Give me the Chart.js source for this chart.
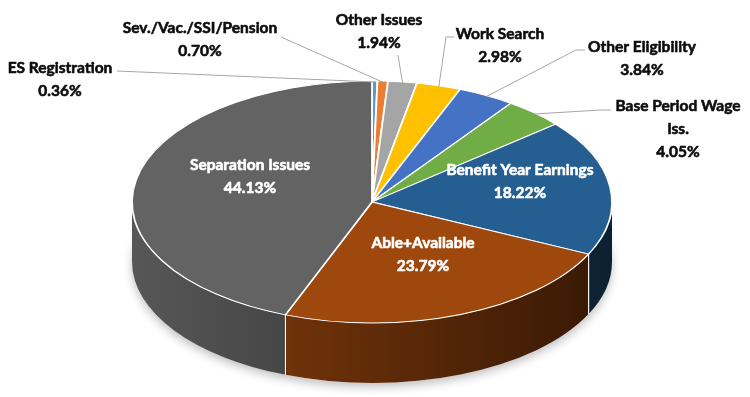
<!DOCTYPE html>
<html>
<head>
<meta charset="utf-8">
<script src="https://cdn.jsdelivr.net/npm/chart.js@4"></script>
<style>
  html, body { margin: 0; background: #fff; }
  #c { display: block; }
</style>
</head>
<body>
<canvas id="c" width="750" height="397"></canvas>
<script>
// --- Data ---
const categories = ['ES Registration', 'Sev./Vac./SSI/Pension', 'Other Issues', 'Work Search',
  'Other Eligibility', 'Base Period Wage Iss.', 'Benefit Year Earnings', 'Able+Available', 'Separation Issues'];
const shares = [0.36, 0.70, 1.94, 2.98, 3.84, 4.05, 18.22, 23.79, 44.13];
const pctLabels = ['0.36%', '0.70%', '1.94%', '2.98%', '3.84%', '4.05%', '18.22%', '23.79%', '44.13%'];
const labelLines = [['ES Registration'], ['Sev./Vac./SSI/Pension'], ['Other Issues'], ['Work Search'],
  ['Other Eligibility'], ['Base Period Wage', 'Iss.'], ['Benefit Year Earnings'], ['Able+Available'], ['Separation Issues']];
const sliceColors = ['#5B9BD5', '#ED7D31', '#A5A5A5', '#FFC000', '#4472C4', '#70AD47', '#255E91', '#9E480E', '#636363'];

// --- Layout (tilted pie + label placement) ---
const PIE = { cx: 372, cy: 202, rx: 240, ry: 121, depth: 60 };
const LINE_H = 23;
const labelPos = [
  { x: 60,  y: 68,  leader: [[117, 71]] },
  { x: 200, y: 28,  leader: [[281, 37]] },
  { x: 379, y: 20,  leader: [[398, 55]] },
  { x: 500, y: 34,  leader: [[454, 37], [446, 37]] },
  { x: 642, y: 47,  leader: [[585, 50], [576, 50]] },
  { x: 678, y: 106, leader: [[611, 110], [601, 110]] },
  { x: 520, y: 170, inside: true },
  { x: 423, y: 243, inside: true },
  { x: 250, y: 165, inside: true }
];

function shade(hex, k) {
  const n = parseInt(hex.slice(1), 16);
  const r = Math.round(((n >> 16) & 255) * k);
  const g = Math.round(((n >> 8) & 255) * k);
  const b = Math.round((n & 255) * k);
  return `rgb(${r},${g},${b})`;
}

function edgePoint(angle) {
  return [PIE.cx + PIE.rx * Math.cos(angle), PIE.cy + PIE.ry * Math.sin(angle)];
}

// draws the side walls, then squashes the library's pie into the top face
const pie3d = {
  id: 'pie3d',
  beforeDatasetsDraw(chart) {
    const ctx = chart.ctx;
    const arcs = chart.getDatasetMeta(0).data;

    // soft shadow under the disc
    ctx.save();
    ctx.shadowColor = 'rgba(0,0,0,0.25)';
    ctx.shadowBlur = 10;
    ctx.shadowOffsetY = 4;
    ctx.beginPath();
    ctx.ellipse(PIE.cx, PIE.cy + PIE.depth, PIE.rx, PIE.ry, 0, 0, Math.PI * 2);
    ctx.fillStyle = '#fff';
    ctx.fill();
    ctx.restore();

    arcs.forEach((arc, i) => {
      const { startAngle, endAngle } = arc.getProps(['startAngle', 'endAngle'], true);
      const a1 = Math.max(startAngle, 0);
      const a2 = Math.min(endAngle, Math.PI);
      if (a2 <= a1) return;
      const c = sliceColors[i];
      const grad = ctx.createLinearGradient(PIE.cx - PIE.rx, 0, PIE.cx + PIE.rx, 0);
      grad.addColorStop(0, shade(c, 0.88));
      grad.addColorStop(1, shade(c, 0.34));
      ctx.beginPath();
      ctx.ellipse(PIE.cx, PIE.cy, PIE.rx, PIE.ry, 0, a1, a2);
      ctx.ellipse(PIE.cx, PIE.cy + PIE.depth, PIE.rx, PIE.ry, 0, a2, a1, true);
      ctx.closePath();
      ctx.fillStyle = grad;
      ctx.fill();
      // white seams on the slice edges
      ctx.strokeStyle = '#fff';
      ctx.lineWidth = 1;
      [a1, a2].forEach(a => {
        if (a === 0 || a === Math.PI) return;
        const [x, y] = edgePoint(a);
        ctx.beginPath();
        ctx.moveTo(x, y);
        ctx.lineTo(x, y + PIE.depth);
        ctx.stroke();
      });
    });

    const a = arcs[0];
    ctx.save();
    ctx.translate(PIE.cx, PIE.cy);
    ctx.scale(PIE.rx / a.outerRadius, PIE.ry / a.outerRadius);
    ctx.translate(-a.x, -a.y);
  },
  afterDatasetsDraw(chart) {
    const ctx = chart.ctx;
    ctx.restore();
    const arcs = chart.getDatasetMeta(0).data;

    ctx.save();
    ctx.font = 'bold 15.5px Lato, "Liberation Sans", sans-serif';
    ctx.textAlign = 'center';
    ctx.textBaseline = 'middle';
    ctx.lineJoin = 'round';
    arcs.forEach((arc, i) => {
      const pos = labelPos[i];
      const lines = labelLines[i].concat([pctLabels[i]]);
      if (!pos.inside) {
        const { startAngle, endAngle } = arc.getProps(['startAngle', 'endAngle'], true);
        const [ax, ay] = edgePoint((startAngle + endAngle) / 2);
        ctx.strokeStyle = '#A6A6A6';
        ctx.lineWidth = 1;
        ctx.beginPath();
        pos.leader.forEach(([x, y], k) => (k ? ctx.lineTo(x, y) : ctx.moveTo(x, y)));
        ctx.lineTo(ax, ay + 1);
        ctx.stroke();
      }
      const col = pos.inside ? '#fff' : '#0D0D0D';
      ctx.fillStyle = col;
      ctx.strokeStyle = col;
      ctx.lineWidth = 0.6;
      lines.forEach((t, k) => {
        ctx.fillText(t, pos.x, pos.y + k * LINE_H);
        ctx.strokeText(t, pos.x, pos.y + k * LINE_H);
      });
    });
    ctx.restore();
  }
};

new Chart(document.getElementById('c'), {
  type: 'pie',
  data: {
    labels: categories,
    datasets: [{
      data: shares,
      backgroundColor: sliceColors,
      borderColor: '#fff',
      borderWidth: 1.5
    }]
  },
  options: {
    responsive: false,
    animation: false,
    layout: { padding: 0 },
    plugins: {
      legend: { display: false },
      tooltip: { enabled: false }
    }
  },
  plugins: [pie3d]
});
</script>
</body>
</html>
